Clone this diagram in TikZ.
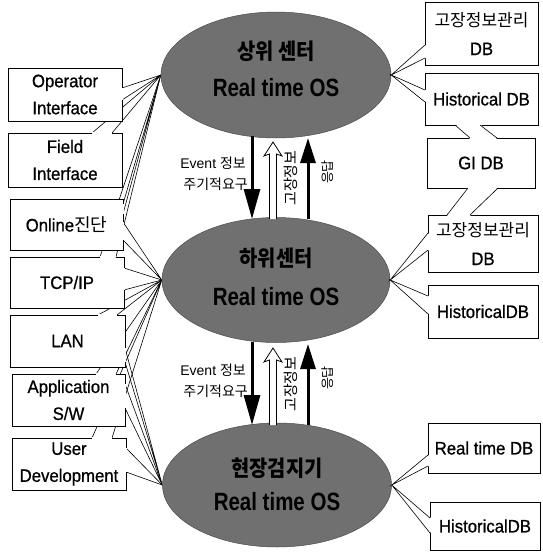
\documentclass[tikz,border=0pt]{standalone}
\usepackage{fontspec}
\setmainfont[FakeStretch=0.93,FakeBold=0.8]{Liberation Sans}
\newfontfamily\reg{Liberation Sans}
\newfontfamily\kr{Noto Sans CJK KR}
\newfontfamily\krc[FakeStretch=0.9]{Noto Sans CJK KR}
\newfontfamily\condb[FakeStretch=0.82]{Liberation Sans}
\usetikzlibrary{shapes.geometric,arrows.meta,calc}
\begin{document}
\begin{tikzpicture}[x=1pt,y=-1pt,
  lbox/.style={draw,line width=0.7pt,fill=white,inner sep=0pt,align=center,font=\fontsize{18}{27}\selectfont},
  rbox/.style={draw,line width=0.7pt,fill=white,inner sep=0pt,align=center,font=\fontsize{18}{29}\selectfont},
  ell/.style={ellipse,fill=black!56,draw=black!70,line width=0.5pt,inner sep=0pt},
  ktitle/.style={font=\krc\bfseries\fontsize{22}{24}\selectfont},
  etitle/.style={font=\condb\bfseries\fontsize{25}{27}\selectfont},
  wline/.style={line width=0.6pt},
  darrow/.style={line width=3pt,-{Triangle[width=16pt,length=30pt]}},
  uarrow/.style={line width=3pt,-{Triangle[width=15pt,length=25pt]}},
  hollow/.style={line width=0.8pt,fill=white,line join=miter},
  small/.style={font=\reg\fontsize{14}{16}\selectfont},
  vlab/.style={rotate=90,font=\kr\fontsize{15}{16}\selectfont,inner sep=0pt},
]
\fill[white] (0,0) rectangle (542,552);
\useasboundingbox (0,0) rectangle (542,552);

% ellipse nodes (positions only, drawn later)
\path (276,75) node[ell,minimum width=230pt,minimum height=126pt,draw=none,fill=none] (e1) {};
\path (276,280) node[ell,minimum width=228pt,minimum height=125pt,draw=none,fill=none] (e2) {};
\path (277,485) node[ell,minimum width=229pt,minimum height=124pt,draw=none,fill=none] (e3) {};

% left callout pointers
\foreach \ax/\ay/\bx/\by/\t in {
  122/88/122/100/e1.west,
  92/133/112/133/e1.west,
  123/204/123/214/e1.west,
  123/222/123/240/e2.west,
  100/257/116/257/e1.west,
  124/268/124/290/e2.west,
  98/315/117/315/e2.west,
  125/348/125/362/e3.west,
  96/374/116/374/e2.west,
  125/384/125/408/e3.west,
  92/438/112/438/e2.west,
  126/448/126/472/e3.west}
  {\draw[wline] (\ax,\ay) -- (\t) -- (\bx,\by);}

% ellipses
\node[ell,minimum width=230pt,minimum height=126pt] at (e1.center) {};
\node[ell,minimum width=228pt,minimum height=125pt] at (e2.center) {};
\node[ell,minimum width=229pt,minimum height=124pt] at (e3.center) {};
\node[ktitle] (k1) at (276,51) {상위 센터};
\node[etitle] (t1) at (276,88) {Real time OS};
\node[ktitle] (k2) at (276,258) {하위센터};
\node[etitle] (t2) at (276,297) {Real time OS};
\node[ktitle] (k3) at (277,468) {현장검지기};
\node[etitle] (t3) at (277,502) {Real time OS};

% left boxes
\node[lbox,minimum width=114pt,minimum height=53pt] (b1) at (65,94.5) {Operator\\Interface};
\node[lbox,minimum width=114pt,minimum height=54pt] (b2) at (65,160) {Field\\Interface};
\node[lbox,minimum width=113pt,minimum height=51pt] (b3) at (66.5,224.5) {Online{\kr 진단}};
\node[lbox,minimum width=114pt,minimum height=51pt] (b4) at (67,282.5) {TCP/IP};
\node[lbox,minimum width=115pt,minimum height=52pt] (b5) at (67.5,341) {LAN};
\node[lbox,minimum width=113pt,minimum height=52pt] (b6) at (68.5,400) {Application\\S/W};
\node[lbox,minimum width=114pt,minimum height=52pt] (b7) at (69,464) {User\\Development};

% openings of the left callouts
\foreach \ax/\ay/\bx/\by in {
  122/88/122/100, 92/133/112/133, 123/204/123/214, 123/222/123/240,
  100/257/116/257, 124/268/124/290, 98/315/117/315, 125/348/125/362,
  96/374/116/374, 125/384/125/408, 92/438/112/438, 126/448/126/472}
  {\draw[white,line width=1.3pt] (\ax,\ay) -- (\bx,\by);}

% right boxes
\node[rbox,minimum width=113pt,minimum height=63pt] (r1) at (481.5,33.5) {{\kr\fontsize{17}{29}\selectfont 고장정보관리}\\DB};
\node[rbox,minimum width=113pt,minimum height=52pt] (r2) at (481.5,99) {Historical DB};
\node[rbox,minimum width=108pt,minimum height=50pt] (r3) at (481,163) {GI DB};
\node[rbox,minimum width=110pt,minimum height=57pt] (r4) at (483,243.5) {{\kr\fontsize{17}{27}\selectfont 고장정보관리}\\DB};
\node[rbox,minimum width=110pt,minimum height=53pt] (r5) at (483,311.5) {HistoricalDB};
\node[rbox,minimum width=112pt,minimum height=50pt] (r6) at (484,448) {Real time DB};
\node[rbox,minimum width=110pt,minimum height=48pt] (r7) at (485,526) {HistoricalDB};

% right callout pointers
\foreach \ax/\ay/\by/\t in {
  425/45/58/e1.east, 425/90/102/e1.east,
  428/233/250/e2.east, 428/296/314/e2.east,
  428/455/466/e3.east, 430/518/533/e3.east}
  {\fill[white] (\t) -- (\ax+1,\ay) -- (\ax+1,\by) -- cycle;
   \draw[wline] (\ax,\ay) -- (\t) -- (\ax,\by);}

% bands between right boxes
\fill[white] (455,124) -- (470,139) -- (497,139) -- (480,124) -- cycle;
\draw[wline] (455,125) -- (470,138) (480,125) -- (497,138);
\fill[white] (468,187) -- (447,216) -- (470,216) -- (498,187) -- cycle;
\draw[wline] (468,188) -- (447,215) (498,188) -- (470,215);

% vertical arrows, upper pair
\coordinate (d1s) at (252,136);
\coordinate (d1e) at (252,219);
\coordinate (hA1) at (273,219);
\coordinate (hB1) at (273,142);
\coordinate (u1s) at (308,219);
\coordinate (u1e) at (308,138);
\draw[darrow] (d1s) -- (d1e);
\draw[hollow] ($(hA1)+(-3.5,0)$) -- ($(hB1)+(-3.5,12)$) -- ($(hB1)+(-9,14)$) -- (hB1) -- ($(hB1)+(9,14)$) -- ($(hB1)+(3.5,12)$) -- ($(hA1)+(3.5,0)$);
\draw[uarrow] (u1s) -- (u1e);
\node[vlab] (g1) at (291,178) {고장정보};
\node[vlab,font=\kr\fontsize{13}{14}\selectfont] (a1) at (328,172) {응답};
\node[small,anchor=east,inner sep=0pt] (ev1) at (246,163) {Event {\kr 정보}};
\node[small,anchor=east,inner sep=0pt] (pr1) at (248,184) {\kr 주기적요구};

% vertical arrows, lower pair
\coordinate (d2s) at (252,342);
\coordinate (d2e) at (252,425);
\coordinate (hA2) at (273,425);
\coordinate (hB2) at (273,348);
\coordinate (u2s) at (308,425);
\coordinate (u2e) at (308,344);
\draw[darrow] (d2s) -- (d2e);
\draw[hollow] ($(hA2)+(-3.5,0)$) -- ($(hB2)+(-3.5,12)$) -- ($(hB2)+(-9,14)$) -- (hB2) -- ($(hB2)+(9,14)$) -- ($(hB2)+(3.5,12)$) -- ($(hA2)+(3.5,0)$);
\draw[uarrow] (u2s) -- (u2e);
\node[vlab] (g2) at (291,384) {고장정보};
\node[vlab,font=\kr\fontsize{13}{14}\selectfont] (a2) at (328,378) {응답};
\node[small,anchor=east,inner sep=0pt] (ev2) at (246,370) {Event {\kr 정보}};
\node[small,anchor=east,inner sep=0pt] (pr2) at (248,391) {\kr 주기적요구};
\end{tikzpicture}
\end{document}
